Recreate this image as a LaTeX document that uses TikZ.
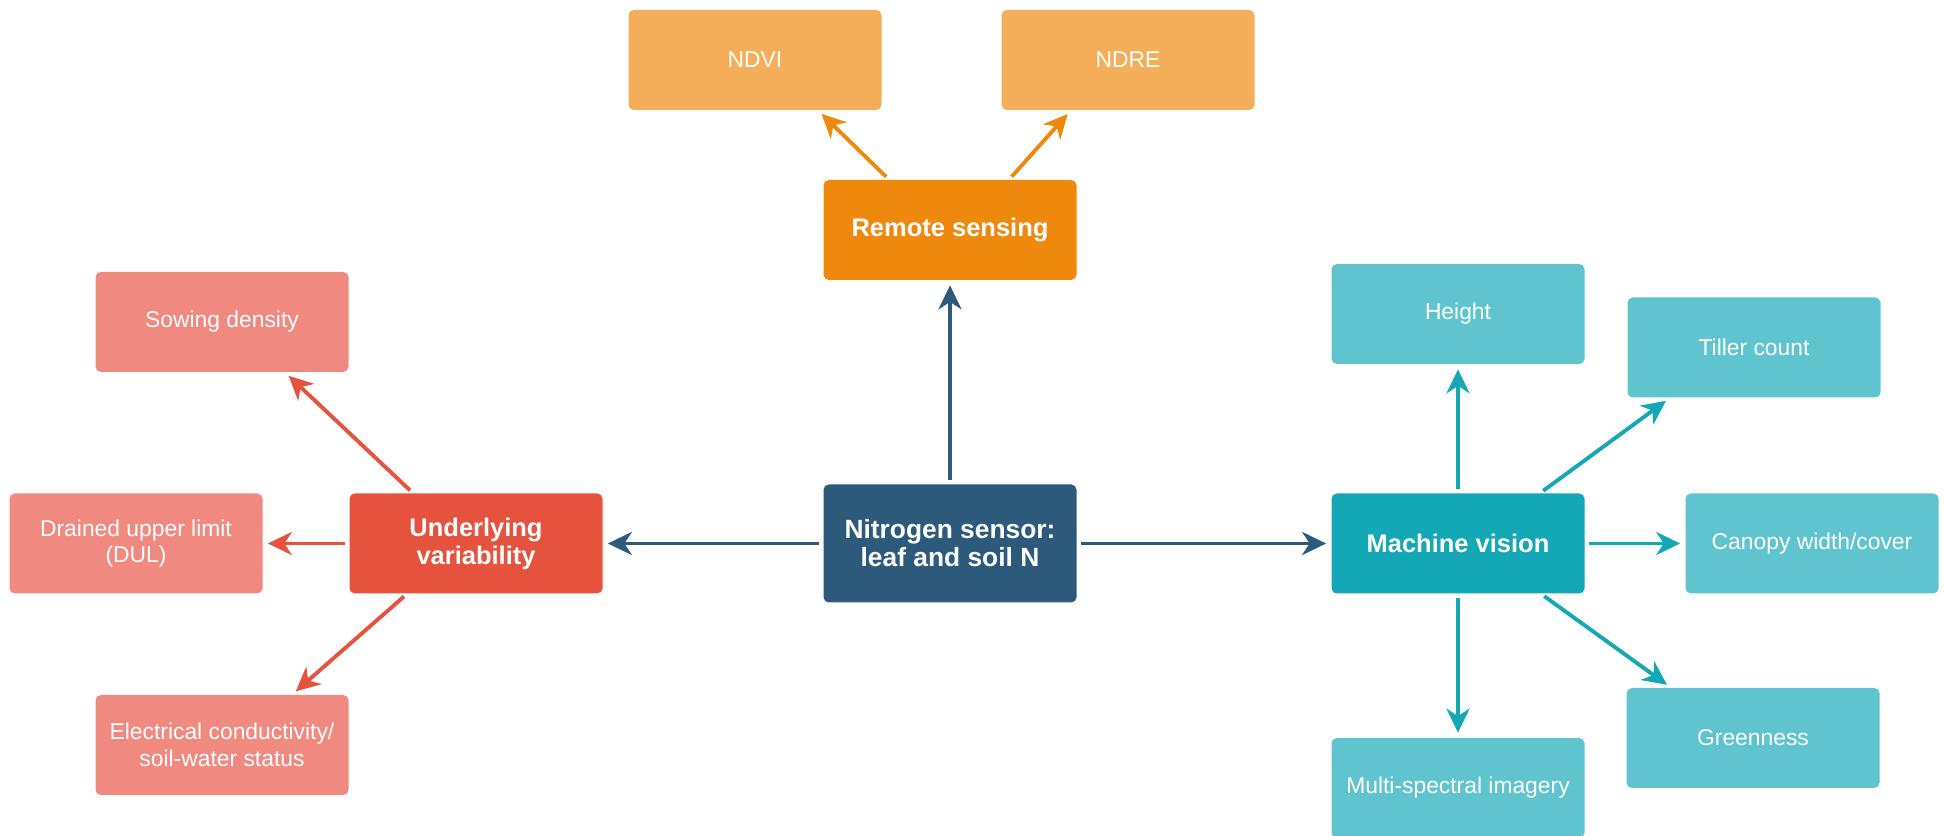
\documentclass[tikz,border=0pt]{standalone}
\usepackage{fontspec}
\setmainfont{Liberation Sans}
\usetikzlibrary{positioning,arrows.meta,calc}
\definecolor{hubblue}{HTML}{2D5A7B}
\definecolor{rsdark}{HTML}{EF890E}
\definecolor{rslight}{HTML}{F4AE59}
\definecolor{uvdark}{HTML}{E5533E}
\definecolor{uvlight}{HTML}{F08A80}
\definecolor{mvdark}{HTML}{14A7B5}
\definecolor{mvlight}{HTML}{5FC4CE}
\tikzset{
  flowarrow/.style={-{Stealth[length=4.8mm, width=4.6mm, inset=1.5mm]}, line width=2.2pt, shorten <=0.08cm, shorten >=0.1cm},
  hubbox/.style={rounded corners=3pt, fill=hubblue, text=white, minimum width=5.06cm, minimum height=2.36cm, align=center, font=\fontsize{15}{16}\selectfont\bfseries},
  catbox/.style={rounded corners=3pt, text=white, minimum width=5.06cm, minimum height=2cm, align=center, font=\fontsize{14.5}{16}\selectfont\bfseries},
  leafbox/.style={rounded corners=3pt, text=white, minimum width=5.06cm, minimum height=2cm, align=center, font=\fontsize{13}{15}\selectfont}
}

\begin{document}
\begin{tikzpicture}
  \useasboundingbox (0,0) rectangle (38.88,16.72);
  % hub
  \node[hubbox] (central) at (19.00,5.85) {Nitrogen sensor:\\ leaf and soil N};
  % remote sensing
  \node[catbox, fill=rsdark] (remote) at (19.00,12.12) {Remote sensing};
  \node[leafbox, fill=rslight] (ndvi) at (15.10,15.52) {NDVI};
  \node[leafbox, fill=rslight] (ndre) at (22.56,15.52) {NDRE};
  % underlying variability
  \node[catbox, fill=uvdark] (under) at (9.52,5.85) {Underlying\\ variability};
  \node[leafbox, fill=uvlight] (sowing) at (4.44,10.28) {Sowing density};
  \node[leafbox, fill=uvlight] (dul) at (2.72,5.85) {Drained upper limit\\ (DUL)};
  \node[leafbox, fill=uvlight] (elec) at (4.44,1.82) {Electrical conductivity/\\ soil-water status};
  % machine vision
  \node[catbox, fill=mvdark] (machine) at (29.16,5.85) {Machine vision};
  \node[leafbox, fill=mvlight] (height) at (29.16,10.44) {Height};
  \node[leafbox, fill=mvlight] (tiller) at (35.08,9.77) {Tiller count};
  \node[leafbox, fill=mvlight] (canopy) at (36.24,5.85) {Canopy width/cover};
  \node[leafbox, fill=mvlight] (green) at (35.06,1.96) {Greenness};
  \node[leafbox, fill=mvlight] (multi) at (29.16,0.96) {Multi-spectral imagery};

  \draw[flowarrow, hubblue] (central) -- (remote);
  \draw[flowarrow, hubblue] (central) -- (under);
  \draw[flowarrow, hubblue] (central) -- (machine);

  \draw[flowarrow, rsdark] ($(remote.north)+(-1.22,0)$) -- ($(ndvi.south)+(1.26,0)$);
  \draw[flowarrow, rsdark] ($(remote.north)+(1.18,0)$) -- ($(ndre.south)+(-1.14,0)$);

  \draw[flowarrow, uvdark] ($(under.north)+(-1.26,0)$) -- ($(sowing.south)+(1.26,0)$);
  \draw[flowarrow, uvdark] (under) -- (dul);
  \draw[flowarrow, uvdark] ($(under.south)+(-1.38,0)$) -- ($(elec.north)+(1.40,0)$);

  \draw[flowarrow, mvdark] (machine) -- (height);
  \draw[flowarrow, mvdark] ($(machine.north)+(1.64,0)$) -- ($(tiller.south)+(-1.68,0)$);
  \draw[flowarrow, mvdark] (machine) -- (canopy);
  \draw[flowarrow, mvdark] ($(machine.south)+(1.66,0)$) -- ($(green.north)+(-1.64,0)$);
  \draw[flowarrow, mvdark] (machine) -- (multi);
\end{tikzpicture}
\end{document}
